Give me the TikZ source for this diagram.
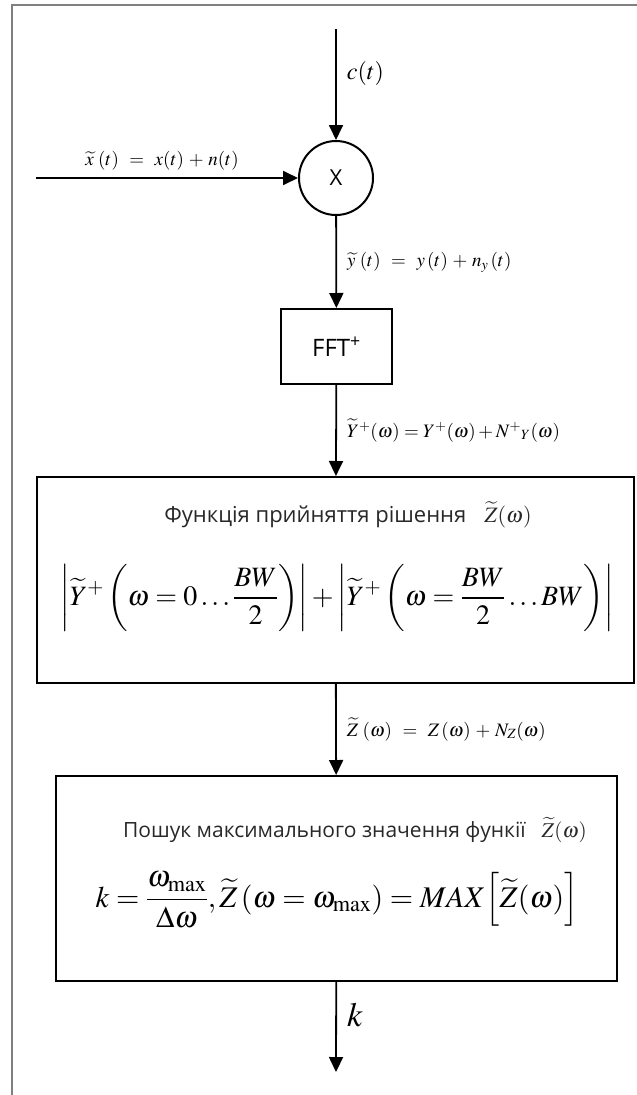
\documentclass[tikz,border=0pt]{standalone}
\usepackage{amsmath}
\usepackage{mathptmx}
\usepackage[no-math]{fontspec}
\setsansfont{Open Sans}
\usetikzlibrary{arrows.meta}
\definecolor{framecolor}{RGB}{128,128,128}
\definecolor{textgray}{RGB}{40,40,40}

\begin{document}
\begin{tikzpicture}[x=1pt, y=-1pt, >={Triangle[length=15pt,width=14pt]}, line width=1.8pt,
  block/.style={draw, line width=2pt, inner sep=0pt},
  lbl/.style={right=10pt, inner sep=0pt, font=\fontsize{19}{22}\selectfont}]
\useasboundingbox (0,0) rectangle (637,1095);

% Outer frame, cut off at right and bottom
\draw[framecolor, line width=2pt] (12,1097) -- (12,5) -- (639,5);

% Define nodes for the blocks
\node[draw, circle, line width=2pt, minimum size=74pt, inner sep=0pt, font=\sffamily\fontsize{22}{26}\selectfont] (mult) at (336,178) {X};
\node[block, minimum width=111pt, minimum height=75pt, font=\sffamily\fontsize{24}{28}\selectfont] (fft) at (336.5,346.5) {FFT\textsuperscript{+}};
\node[block, minimum width=597pt, minimum height=206pt] (decision) at (335.5,580) {};
\node[block, minimum width=561pt, minimum height=205pt] (search) at (336.5,878.5) {};

% Texts inside the blocks
\node[textgray, font=\sffamily\fontsize{22}{26}\selectfont] (dtitle) at (348,515) {Функція прийняття рішення\hspace{18pt}$\widetilde{Z}(\omega)$};
\node[font=\fontsize{28}{32}\selectfont] (dform) at (337,598) {$\displaystyle \left|\widetilde{Y}^{+}\left(\omega=0\ldots\frac{BW}{2}\right)\right|+\left|\widetilde{Y}^{+}\left(\omega=\frac{BW}{2}\ldots BW\right)\right|$};
\node[textgray, font=\sffamily\fontsize{21}{25}\selectfont] (stitle) at (355,830) {Пошук максимального значення функії\hspace{16pt}$\widetilde{Z}(\omega)$};
\node[font=\fontsize{30}{34}\selectfont] (sform) at (337,900) {$\displaystyle k=\frac{\omega_{\mathrm{max}}}{\Delta\omega},\widetilde{Z}\left(\omega=\omega_{\mathrm{max}}\right)=MAX\!\left[\widetilde{Z}(\omega)\right]$};

% Free ends of the connectors
\coordinate (ctop) at (336,29);
\coordinate (xin) at (36,178);
\coordinate (kout) at (336,1072);

% Signal flow
\draw[->] (ctop) -- node[lbl, pos=0.4, font=\fontsize{24}{28}\selectfont] {$c(t)$} (mult);
\draw[->] (xin) -- node[above=7pt, xshift=-5pt, inner sep=0pt, font=\fontsize{19}{22}\selectfont] {$\widetilde{x}\;(t)\;\,=\;\,x(t)\,+\,n(t)$} (mult);
\draw[->] (mult) -- node[lbl] {$\widetilde{y}\;(t)\;\,=\;\,y\,(t)\,+\,n_{y}\,(t)$} (fft);
\draw[->] (fft) -- node[lbl] {$\widetilde{Y}^{+}(\omega)=Y^{+}(\omega)+N^{+}{}_{Y}(\omega)$} (decision);
\draw[->] (decision) -- node[lbl] {$\widetilde{Z}\;(\omega)\;\,=\;\,Z\,(\omega)\,+\,N_{Z}(\omega)$} (search);
\draw[->] (search) -- node[lbl, pos=0.37, font=\fontsize{34}{38}\selectfont] {$k$} (kout);
\end{tikzpicture}
\end{document}
